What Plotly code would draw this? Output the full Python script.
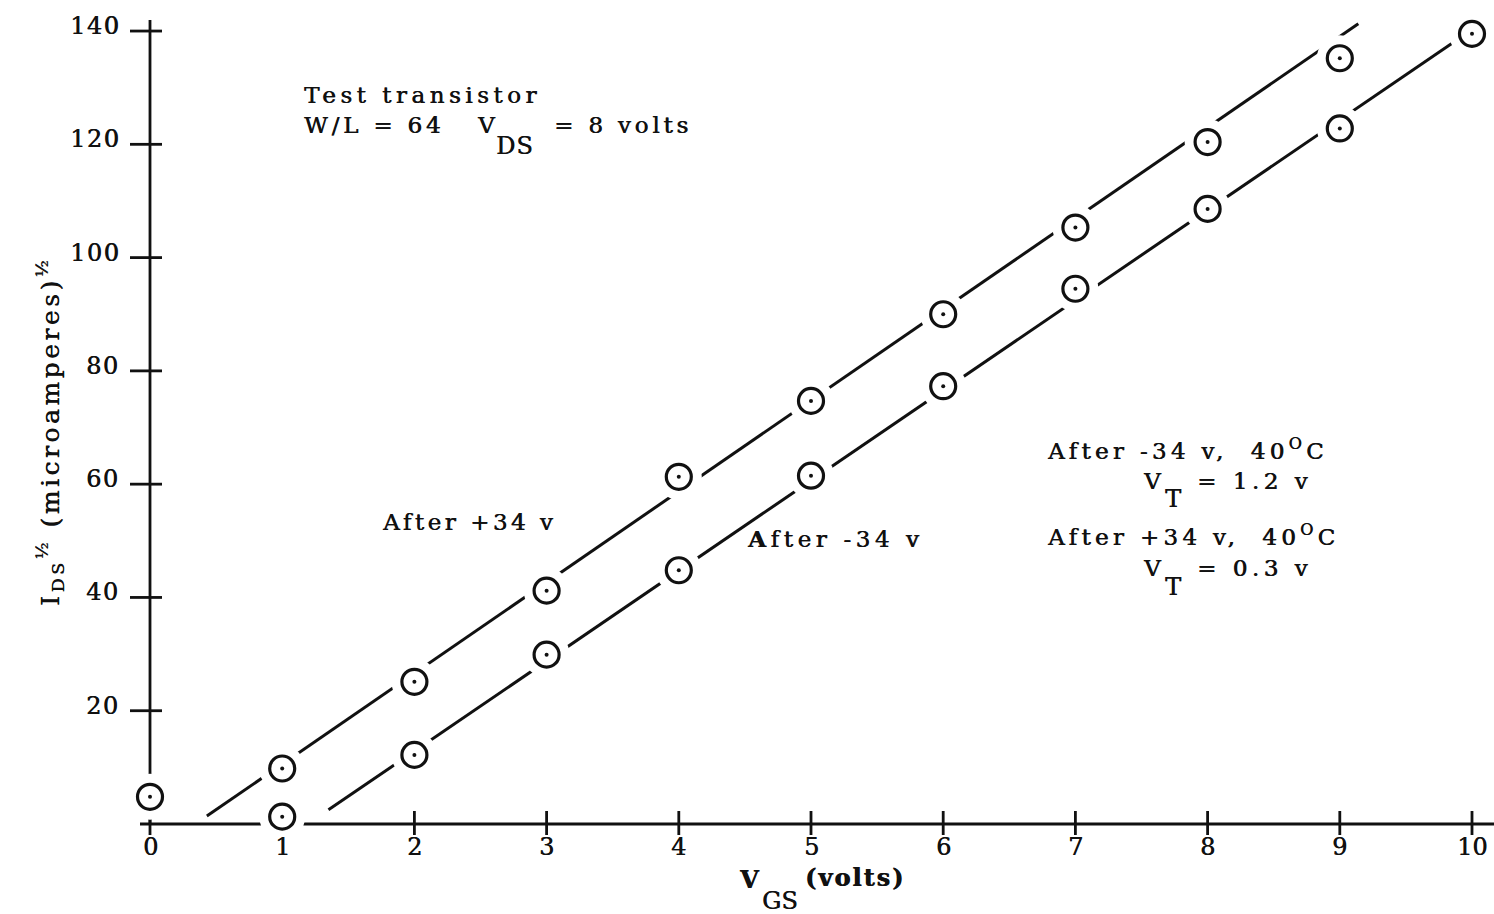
import plotly.graph_objects as go

# Gate-voltage sweep points and measured sqrt(I_DS) for the test transistor
vgs_after_pos = [0, 1, 2, 3, 4, 5, 6, 7, 8, 9]
sqrt_ids_after_pos = [4.8, 9.8, 25.1, 41.2, 61.3, 74.7, 90.0, 105.3, 120.4, 135.2]

vgs_after_neg = [1, 2, 3, 4, 5, 6, 7, 8, 9, 10]
sqrt_ids_after_neg = [1.3, 12.2, 29.9, 44.8, 61.5, 77.3, 94.5, 108.6, 122.8, 139.5]

# Straight-line fits drawn through each set
fit_pos_x = [0.43, 9.14]
fit_pos_y = [1.4, 141.3]
fit_neg_x = [1.35, 10.11]
fit_neg_y = [2.5, 142.0]

x_ticks = [0, 1, 2, 3, 4, 5, 6, 7, 8, 9, 10]
y_ticks = [20, 40, 60, 80, 100, 120, 140]

W, H = 1494, 914
X0_PX, SX = 150.0, 132.2      # pixel of V_GS = 0, pixels per volt
Y0_PX, SY = 824.0, 5.664      # pixel of zero current, pixels per unit

FONT = "DejaVu Serif"
INK = "#111111"
HEAVY = "0.6px 0 0 #111111"   # slight thickening of the lettering


def dx(px):
    return (px - X0_PX) / SX


def dy(py):
    return (Y0_PX - py) / SY


def spaced(text, ls=3.5):
    return f'<span style="letter-spacing:{ls}px">{text}</span>'


def font(size):
    return dict(family=FONT, size=size, color=INK, shadow=HEAVY)


fig = go.Figure()

# fitted lines
for fx, fy in [(fit_pos_x, fit_pos_y), (fit_neg_x, fit_neg_y)]:
    fig.add_trace(go.Scatter(x=fx, y=fy, mode="lines",
                             line=dict(color=INK, width=3),
                             hoverinfo="skip", showlegend=False))

# white halo around each point breaks the lines and axis
for xs, ys in [(vgs_after_pos, sqrt_ids_after_pos), (vgs_after_neg, sqrt_ids_after_neg)]:
    fig.add_trace(go.Scatter(x=xs, y=ys, mode="markers",
                             marker=dict(symbol="circle", size=46, color="white",
                                         line=dict(width=0)),
                             hoverinfo="skip", showlegend=False))

# dotted-circle data markers
for xs, ys in [(vgs_after_pos, sqrt_ids_after_pos), (vgs_after_neg, sqrt_ids_after_neg)]:
    fig.add_trace(go.Scatter(x=xs, y=ys, mode="markers",
                             marker=dict(symbol="circle", size=25, color="white",
                                         line=dict(width=3.2, color=INK)),
                             showlegend=False))
    fig.add_trace(go.Scatter(x=xs, y=ys, mode="markers",
                             marker=dict(symbol="circle", size=4, color=INK,
                                         line=dict(width=0)),
                             hoverinfo="skip", showlegend=False))

shapes = []
# axes
shapes.append(dict(type="line", xref="x", yref="y", x0=dx(140), x1=dx(W + 5), y0=0, y1=0,
                   line=dict(color=INK, width=2.8), layer="below"))
shapes.append(dict(type="line", xref="x", yref="y", x0=0, x1=0, y0=0, y1=dy(20),
                   line=dict(color=INK, width=2.8), layer="below"))
# crossing tick marks
for t in x_ticks:
    shapes.append(dict(type="line", xref="x", yref="y", x0=t, x1=t, y0=dy(811), y1=dy(835),
                       line=dict(color=INK, width=2.8), layer="below"))
for t in y_ticks:
    shapes.append(dict(type="line", xref="x", yref="y", x0=dx(130), x1=dx(162), y0=t, y1=t,
                       line=dict(color=INK, width=2.8), layer="below"))

ann = []
for t in x_ticks:
    ann.append(dict(x=t, y=dy(847), xref="x", yref="y", text=str(t), showarrow=False,
                    xanchor="center", yanchor="middle", font=font(24)))
for t in y_ticks:
    ann.append(dict(x=dx(122), y=t + 5 / SY, xref="x", yref="y", text=spaced(str(t), 1.5),
                    showarrow=False, xanchor="right", yanchor="middle", font=font(24)))


def label(text, x_px, y_px, size=23, anchor="left"):
    ann.append(dict(x=x_px / W, y=1 - y_px / H, xref="paper", yref="paper", text=text,
                    showarrow=False, xanchor=anchor, yanchor="middle", font=font(size)))


# header block
label(spaced("Test transistor", 4.5), 302, 95)
label(spaced("W/L = 64", 3.8), 302, 125)
label("V", 475, 125)
label(spaced("DS", 1), 494, 146, size=24)
label(spaced("= 8 volts", 3.8), 552, 125)

# curve labels
label(spaced("After +34 v"), 380, 522)
label(spaced("<b>A</b>fter -34 v", 4.6), 745, 538)

# threshold-voltage notes
label(spaced("After -34 v,  40<sup>O</sup>C", 4.3), 1045, 449)
label("V", 1141, 481)
label("T", 1163, 499, size=24)
label(spaced("= 1.2 v", 4.5), 1195, 481)
label(spaced("After +34 v,  40<sup>O</sup>C", 4.3), 1045, 535)
label("V", 1141, 568)
label("T", 1163, 587, size=24)
label(spaced("= 0.3 v", 4.5), 1195, 568)

# axis titles
label("<b>V</b>", 737, 879, size=24)
label("GS", 760, 901, size=24)
label(spaced("<b>(volts)</b>", 2), 803, 877, size=24)

ann.append(dict(x=50 / W, y=1 - 432 / H, xref="paper", yref="paper",
                text=spaced("I<sub>DS</sub><sup>½</sup> (microamperes)<sup>½</sup>", 3.5),
                textangle=-90, showarrow=False, xanchor="center", yanchor="middle",
                font=font(25)))

fig.update_layout(
    width=W, height=H,
    margin=dict(l=0, r=0, t=0, b=0),
    paper_bgcolor="white", plot_bgcolor="white",
    xaxis=dict(range=[dx(0), dx(W)], visible=False, fixedrange=True),
    yaxis=dict(range=[dy(H), dy(0)], visible=False, fixedrange=True),
    shapes=shapes, annotations=ann,
)

fig.write_html("out.html")
